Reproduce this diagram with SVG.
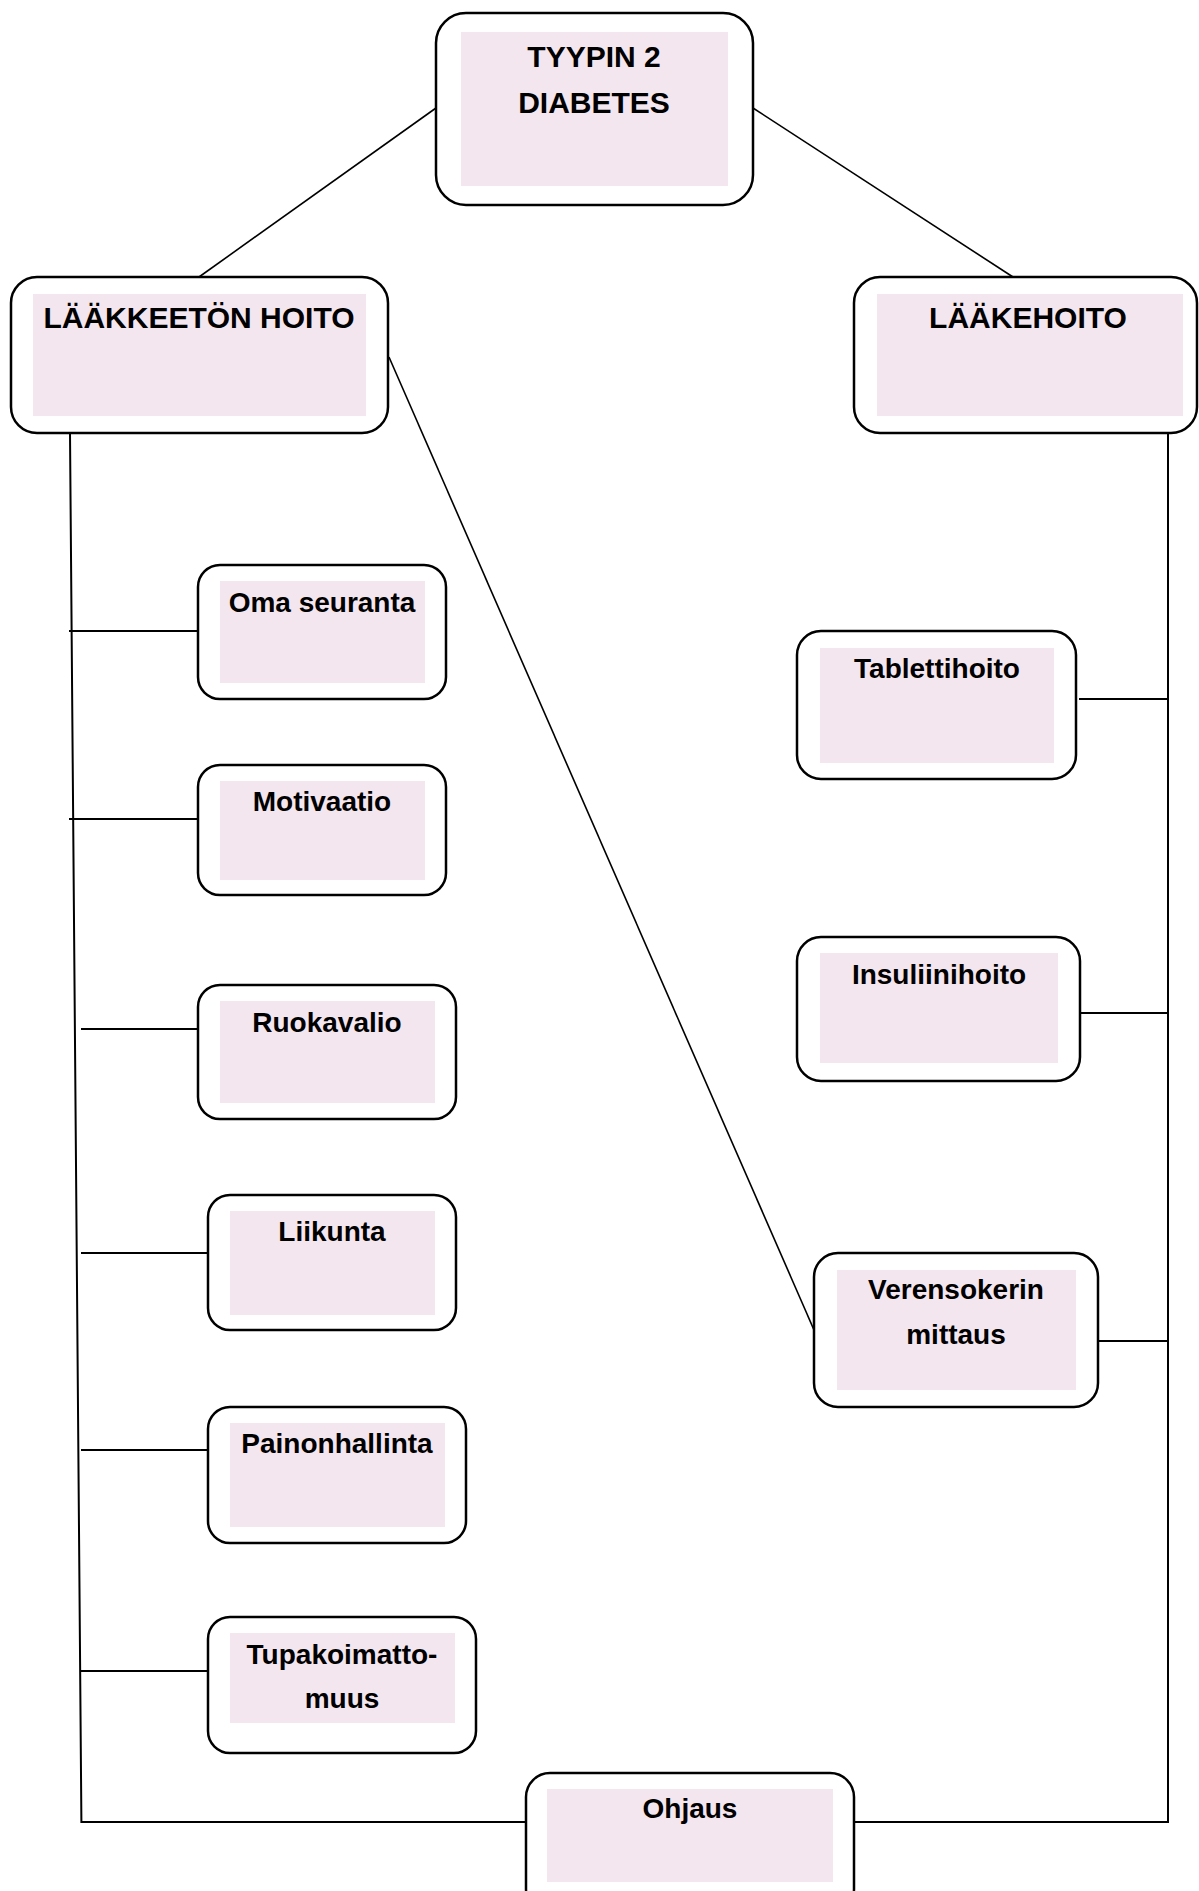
<svg xmlns="http://www.w3.org/2000/svg" width="1199" height="1891" viewBox="0 0 1199 1891">
<style>
.box{fill:#fff;stroke:#000;stroke-width:2.5}
.inner{fill:#F3E6EE;stroke:none}
.t{font-family:"Liberation Sans",Arial,sans-serif;font-weight:bold;fill:#000;text-anchor:middle}
.big{font-size:30px}
.sm{font-size:28px}
.c{stroke:#000;stroke-width:2;fill:none}
.d{stroke:#000;stroke-width:1.6;fill:none}
</style>
<rect width="1199" height="1891" fill="#fff"/>
<g id="connectors">
<line class="d" x1="436" y1="108" x2="199" y2="277"/>
<line class="d" x1="753" y1="108" x2="1013" y2="277"/>
<line class="d" x1="389" y1="357" x2="814" y2="1330"/>
<polyline class="c" points="70,433 81.4,1822 526,1822"/>
<polyline class="c" points="854,1822 1168,1822 1168,433"/>
<line class="c" x1="69" y1="631" x2="198" y2="631"/>
<line class="c" x1="69" y1="819" x2="198" y2="819"/>
<line class="c" x1="81" y1="1029" x2="198" y2="1029"/>
<line class="c" x1="81" y1="1253" x2="208" y2="1253"/>
<line class="c" x1="81" y1="1450" x2="208" y2="1450"/>
<line class="c" x1="81" y1="1671" x2="208" y2="1671"/>
<line class="c" x1="1079" y1="699" x2="1168" y2="699"/>
<line class="c" x1="1080" y1="1013" x2="1168" y2="1013"/>
<line class="c" x1="1098" y1="1341" x2="1168" y2="1341"/>
</g>
<g id="node-tyypin2">
<rect class="box" x="436" y="13" width="317" height="192" rx="30"/>
<rect class="inner" x="461" y="32" width="267" height="154"/>
<text class="t big" x="594" y="67">TYYPIN 2</text>
<text class="t big" x="594" y="113">DIABETES</text>
</g>
<g id="node-laakkeeton">
<rect class="box" x="11" y="277" width="377" height="156" rx="26"/>
<rect class="inner" x="33" y="294" width="333" height="122"/>
<text class="t big" x="199" y="328">LÄÄKKEETÖN HOITO</text>
</g>
<g id="node-laakehoito">
<rect class="box" x="854" y="277" width="343" height="156" rx="26"/>
<rect class="inner" x="877" y="294" width="306" height="122"/>
<text class="t big" x="1028" y="328">LÄÄKEHOITO</text>
</g>
<g id="node-oma">
<rect class="box" x="198" y="565" width="248" height="134" rx="22"/>
<rect class="inner" x="220" y="581" width="205" height="102"/>
<text class="t sm" x="322" y="612">Oma seuranta</text>
</g>
<g id="node-motivaatio">
<rect class="box" x="198" y="765" width="248" height="130" rx="22"/>
<rect class="inner" x="220" y="781" width="205" height="99"/>
<text class="t sm" x="322" y="811">Motivaatio</text>
</g>
<g id="node-ruokavalio">
<rect class="box" x="198" y="985" width="258" height="134" rx="22"/>
<rect class="inner" x="220" y="1001" width="215" height="102"/>
<text class="t sm" x="327" y="1032">Ruokavalio</text>
</g>
<g id="node-liikunta">
<rect class="box" x="208" y="1195" width="248" height="135" rx="22"/>
<rect class="inner" x="230" y="1211" width="205" height="104"/>
<text class="t sm" x="332" y="1241">Liikunta</text>
</g>
<g id="node-painonhallinta">
<rect class="box" x="208" y="1407" width="258" height="136" rx="22"/>
<rect class="inner" x="230" y="1423" width="215" height="104"/>
<text class="t sm" x="337" y="1453">Painonhallinta</text>
</g>
<g id="node-tupakoimattomuus">
<rect class="box" x="208" y="1617" width="268" height="136" rx="22"/>
<rect class="inner" x="230" y="1633" width="225" height="90"/>
<text class="t sm" x="342" y="1664">Tupakoimatto-</text>
<text class="t sm" x="342" y="1708">muus</text>
</g>
<g id="node-tablettihoito">
<rect class="box" x="797" y="631" width="279" height="148" rx="24"/>
<rect class="inner" x="820" y="648" width="234" height="115"/>
<text class="t sm" x="937" y="678">Tablettihoito</text>
</g>
<g id="node-insuliinihoito">
<rect class="box" x="797" y="937" width="283" height="144" rx="24"/>
<rect class="inner" x="820" y="953" width="238" height="110"/>
<text class="t sm" x="939" y="984">Insuliinihoito</text>
</g>
<g id="node-verensokeri">
<rect class="box" x="814" y="1253" width="284" height="154" rx="24"/>
<rect class="inner" x="837" y="1270" width="239" height="120"/>
<text class="t sm" x="956" y="1299">Verensokerin</text>
<text class="t sm" x="956" y="1344">mittaus</text>
</g>
<g id="node-ohjaus">
<rect class="box" x="526" y="1773" width="328" height="140" rx="24"/>
<rect class="inner" x="547" y="1789" width="286" height="93"/>
<text class="t sm" x="690" y="1818">Ohjaus</text>
</g>
</svg>
